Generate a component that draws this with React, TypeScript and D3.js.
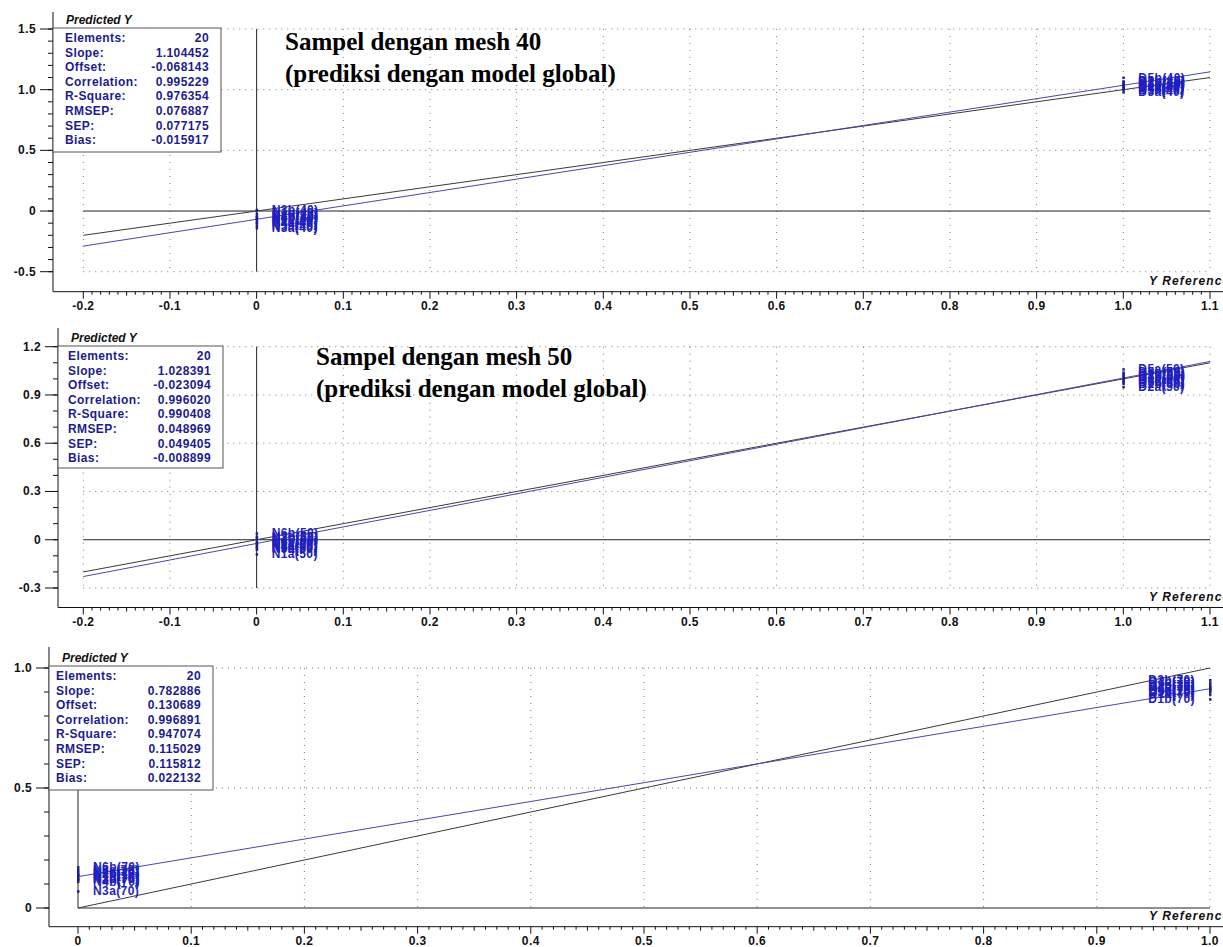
import React, { useRef, useEffect } from 'react';
import * as d3 from 'd3';

// stats box rows (same labels for every panel)
const statNames = ['Elements:', 'Slope:', 'Offset:', 'Correlation:', 'R-Square:', 'RMSEP:', 'SEP:', 'Bias:'];
const stats40 = ['20', '1.104452', '-0.068143', '0.995229', '0.976354', '0.076887', '0.077175', '-0.015917'];
const stats50 = ['20', '1.028391', '-0.023094', '0.996020', '0.990408', '0.048969', '0.049405', '-0.008899'];
const stats70 = ['20', '0.782886', '0.130689', '0.996891', '0.947074', '0.115029', '0.115812', '0.022132'];

// regression line (slope / offset from the boxes)
const fit40 = { slope: 1.104452, offset: -0.068143 };
const fit50 = { slope: 1.028391, offset: -0.023094 };
const fit70 = { slope: 0.782886, offset: 0.130689 };

// samples: reference Y (0 or 1) and predicted Y
const ref40 = [0, 0, 0, 0, 0, 0, 0, 0, 0, 0, 1, 1, 1, 1, 1, 1, 1, 1, 1, 1];
const pred40 = [0.01, -0.02, -0.04, -0.05, -0.06, -0.07, -0.09, -0.10, -0.12, -0.14,
  1.10, 1.07, 1.06, 1.05, 1.04, 1.03, 1.02, 1.01, 1.00, 0.98];
const names40 = ['N3b', 'N1b', 'N2b', 'N4b', 'N5b', 'N1a', 'N2a', 'N4a', 'N5a', 'N3a',
  'D5b', 'D1b', 'D2b', 'D3b', 'D4b', 'D1a', 'D2a', 'D4a', 'D5a', 'D3a'];

const ref50 = [0, 0, 0, 0, 0, 0, 0, 0, 0, 0, 1, 1, 1, 1, 1, 1, 1, 1, 1, 1];
const pred50 = [0.04, 0.02, 0.01, -0.01, -0.02, -0.03, -0.04, -0.05, -0.06, -0.09,
  1.06, 1.04, 1.03, 1.02, 1.01, 1.00, 0.99, 0.98, 0.97, 0.95];
const names50 = ['N6b', 'N2b', 'N3b', 'N4b', 'N6a', 'N2a', 'N4a', 'N3a', 'N9a', 'N1a',
  'D5a', 'D5b', 'D1b', 'D3b', 'D4b', 'D1a', 'D4a', 'D3a', 'D2b', 'D2a'];

const ref70 = [0, 0, 0, 0, 0, 0, 0, 0, 0, 0, 1, 1, 1, 1, 1, 1, 1, 1, 1, 1];
const pred70 = [0.17, 0.16, 0.15, 0.14, 0.14, 0.13, 0.12, 0.12, 0.11, 0.07,
  0.95, 0.94, 0.93, 0.92, 0.92, 0.91, 0.91, 0.90, 0.89, 0.87];
const names70 = ['N6b', 'N6a', 'N4a', 'N1b', 'N2b', 'N1a', 'N2a', 'N3b', 'N4b', 'N3a',
  'D3b', 'D3a', 'D2b', 'D4b', 'D2a', 'D4a', 'D5a', 'D5b', 'D1a', 'D1b'];

// tick labels
const xTicksWide = [-0.2, -0.1, 0, 0.1, 0.2, 0.3, 0.4, 0.5, 0.6, 0.7, 0.8, 0.9, 1.0, 1.1];
const xTicks70 = [0, 0.1, 0.2, 0.3, 0.4, 0.5, 0.6, 0.7, 0.8, 0.9, 1.0];
const yTicks40 = [1.5, 1.0, 0.5, 0, -0.5];
const yTicks50 = [1.2, 0.9, 0.6, 0.3, 0, -0.3];
const yTicks70 = [1.0, 0.5, 0];

const titles40 = ['Sampel dengan mesh 40', '(prediksi dengan model global)'];
const titles50 = ['Sampel dengan mesh 50', '(prediksi dengan model global)'];

const panels = [
  {
    mesh: '40', stats: stats40, fit: fit40, ref: ref40, pred: pred40, names: names40,
    xTicks: xTicksWide, yTicks: yTicks40, titles: titles40,
    xDomain: [-0.2, 1.1], xRange: [83.3, 1210], yDomain: [-0.5, 1.5], yRange: [271.7, 29],
    axisX: 53, axisY: 291.7, axisTop: 12, box: [53, 28, 168, 124], boxPad: 12,
    titleX: 285, titleY: 50, rightLabels: false
  },
  {
    mesh: '50', stats: stats50, fit: fit50, ref: ref50, pred: pred50, names: names50,
    xTicks: xTicksWide, yTicks: yTicks50, titles: titles50,
    xDomain: [-0.2, 1.1], xRange: [83.3, 1210], yDomain: [-0.3, 1.2], yRange: [588, 346.7],
    axisX: 58, axisY: 607.5, axisTop: 328, box: [58, 346, 165, 122], boxPad: 10,
    titleX: 316, titleY: 365, rightLabels: false
  },
  {
    mesh: '70', stats: stats70, fit: fit70, ref: ref70, pred: pred70, names: names70,
    xTicks: xTicks70, yTicks: yTicks70, titles: [],
    xDomain: [0, 1.0], xRange: [78, 1210], yDomain: [0, 1.0], yRange: [908, 668],
    axisX: 49, axisY: 926.7, axisTop: 647, box: [49, 666, 164, 124], boxPad: 7,
    titleX: 0, titleY: 0, rightLabels: true
  }
];

const navy = '#1c1c8e';
const ptBlue = '#1f1fc0';
const sans = '"Liberation Sans", Arial, sans-serif';

function fmt(v) {
  return v === 0 ? '0' : v.toFixed(1);
}

function drawPanel(svg, p) {
  const g = svg.append('g');
  const x = d3.scaleLinear().domain(p.xDomain).range(p.xRange);
  const y = d3.scaleLinear().domain(p.yDomain).range(p.yRange);
  const [x0, x1] = p.xDomain;
  const [y0, y1] = p.yDomain;

  // dotted grid
  p.yTicks.filter(v => v !== 0).forEach(v => {
    g.append('line')
      .attr('x1', x(x0)).attr('x2', x(x1)).attr('y1', y(v)).attr('y2', y(v))
      .attr('stroke', '#777').attr('stroke-dasharray', '1,5');
  });
  p.xTicks.filter(v => v !== 0).forEach(v => {
    g.append('line')
      .attr('x1', x(v)).attr('x2', x(v)).attr('y1', y(y1)).attr('y2', y(y0))
      .attr('stroke', '#777').attr('stroke-dasharray', '1,6');
  });

  // zero lines
  g.append('line').attr('x1', x(x0)).attr('x2', x(x1)).attr('y1', y(0)).attr('y2', y(0))
    .attr('stroke', '#222');
  g.append('line').attr('x1', x(0)).attr('x2', x(0)).attr('y1', y(y1)).attr('y2', y(y0))
    .attr('stroke', '#222');

  // target line y = x and regression line
  g.append('line').attr('x1', x(x0)).attr('x2', x(x1)).attr('y1', y(x0)).attr('y2', y(x1))
    .attr('stroke', '#3a3a3a');
  g.append('line')
    .attr('x1', x(x0)).attr('x2', x(x1))
    .attr('y1', y(p.fit.slope * x0 + p.fit.offset))
    .attr('y2', y(p.fit.slope * x1 + p.fit.offset))
    .attr('stroke', '#4848a8');

  // points + labels (the labels overlap just like in the source software)
  p.pred.forEach((v, i) => {
    const px = x(p.ref[i]);
    const py = y(v);
    g.append('rect').attr('x', px - 1).attr('y', py - 1).attr('width', 2.5).attr('height', 2.5)
      .attr('fill', navy);
    const right = p.rightLabels && p.ref[i] === 1;
    g.append('text')
      .attr('x', right ? px - 15 : px + 15)
      .attr('y', py + 4)
      .attr('text-anchor', right ? 'end' : 'start')
      .attr('font-family', sans).attr('font-size', 12).attr('font-weight', 'bold')
      .attr('letter-spacing', 0.4)
      .attr('fill', ptBlue)
      .text(`${p.names[i]}(${p.mesh})`);
  });

  // axes
  g.append('line').attr('x1', p.axisX).attr('x2', 1223).attr('y1', p.axisY).attr('y2', p.axisY)
    .attr('stroke', '#111');
  g.append('line').attr('x1', p.axisX).attr('x2', p.axisX).attr('y1', p.axisTop).attr('y2', p.axisY)
    .attr('stroke', '#111');

  d3.range(Math.round(x0 * 100), Math.round(x1 * 100) + 1).forEach(k => {
    const len = k % 10 === 0 ? 7 : (k % 5 === 0 ? 4 : 3);
    g.append('line').attr('x1', x(k / 100)).attr('x2', x(k / 100))
      .attr('y1', p.axisY).attr('y2', p.axisY + len).attr('stroke', '#111');
  });
  p.xTicks.forEach(v => {
    g.append('text').attr('x', x(v)).attr('y', p.axisY + 18).attr('text-anchor', 'middle')
      .attr('font-family', sans).attr('font-size', 12).attr('font-weight', 'bold')
      .attr('letter-spacing', 0.4).attr('fill', '#111').text(fmt(v));
  });

  d3.range(Math.round(y0 * 10), Math.round(y1 * 10) + 1).forEach(k => {
    g.append('line').attr('x1', p.axisX - 5).attr('x2', p.axisX)
      .attr('y1', y(k / 10)).attr('y2', y(k / 10)).attr('stroke', '#111');
  });
  p.yTicks.forEach(v => {
    g.append('line').attr('x1', p.axisX - 13).attr('x2', p.axisX)
      .attr('y1', y(v)).attr('y2', y(v)).attr('stroke', '#111');
    g.append('text').attr('x', p.axisX - 17).attr('y', y(v) + 4).attr('text-anchor', 'end')
      .attr('font-family', sans).attr('font-size', 12).attr('font-weight', 'bold')
      .attr('letter-spacing', 0.4).attr('fill', '#111').text(fmt(v));
  });

  g.append('text').attr('x', p.axisX + 13).attr('y', p.box[1] - 4)
    .attr('font-family', sans).attr('font-size', 12).attr('font-weight', 'bold')
    .attr('font-style', 'italic').attr('fill', '#111').text('Predicted Y');
  // clipped by the right edge, as in the original screenshot
  g.append('text').attr('x', 1149).attr('y', p.axisY - 7)
    .attr('font-family', sans).attr('font-size', 12).attr('font-weight', 'bold')
    .attr('font-style', 'italic').attr('letter-spacing', 1.1).attr('fill', '#111')
    .text('Y Reference');

  // stats box
  const [bx, by, bw, bh] = p.box;
  g.append('rect').attr('x', bx).attr('y', by).attr('width', bw).attr('height', bh)
    .attr('fill', '#fff').attr('stroke', '#555');
  statNames.forEach((name, i) => {
    const ty = by + 14 + i * 14.6;
    g.append('text').attr('x', bx + p.boxPad).attr('y', ty)
      .attr('font-family', sans).attr('font-size', 12).attr('font-weight', 'bold')
      .attr('letter-spacing', 0.4).attr('fill', navy).text(name);
    g.append('text').attr('x', bx + bw - 12).attr('y', ty).attr('text-anchor', 'end')
      .attr('font-family', sans).attr('font-size', 12).attr('font-weight', 'bold')
      .attr('letter-spacing', 0.4).attr('fill', navy).text(p.stats[i]);
  });

  // panel title
  p.titles.forEach((t, i) => {
    g.append('text').attr('x', p.titleX).attr('y', p.titleY + i * 32)
      .attr('font-family', '"Liberation Serif", "Times New Roman", serif')
      .attr('font-size', 25).attr('font-weight', 'bold').attr('fill', '#000')
      .text(t);
  });
}

export default function App() {
  const svgRef = useRef(null);

  useEffect(() => {
    const svg = d3.select(svgRef.current);
    svg.selectAll('*').remove();
    svg.append('rect').attr('width', 1223).attr('height', 947).attr('fill', '#fff');
    panels.forEach(p => drawPanel(svg, p));
  }, []);

  return (
    <svg
      ref={svgRef}
      width={1223}
      height={947}
      style={{ position: 'absolute', left: 0, top: 0, display: 'block' }}
    />
  );
}
